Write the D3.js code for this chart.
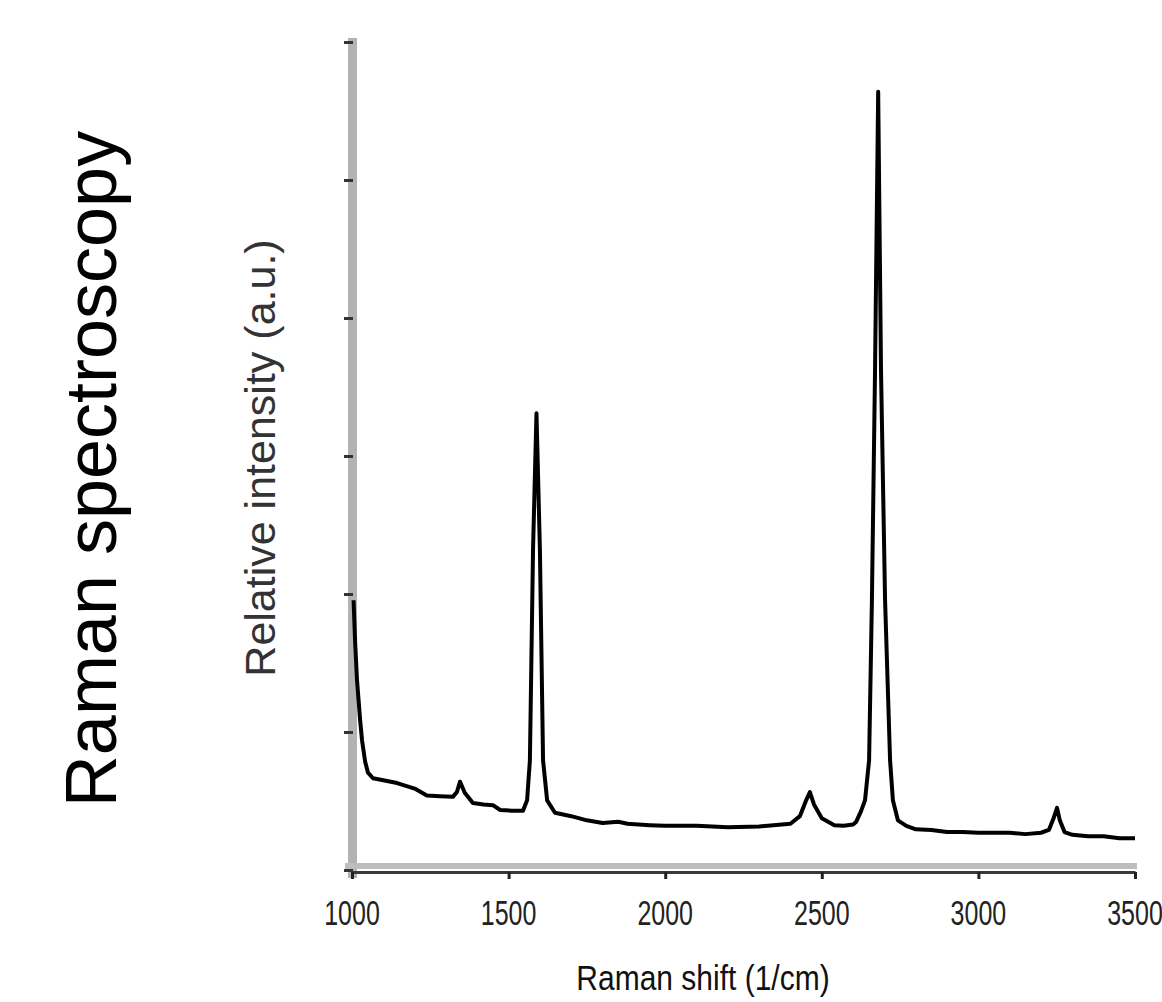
<!DOCTYPE html>
<html lang="en">
<head>
    <meta charset="UTF-8">
    <title>Raman spectroscopy</title>
    <script src="https://d3js.org/d3.v7.min.js"></script>
    <style>
        body {
            margin: 0;
            background: #fff;
            font-family: "Liberation Sans", Arial, sans-serif;
        }
    </style>
</head>
<body>
<div id="chart"></div>

<script>
    // Raman shift (1/cm) and relative intensity
    const shift = [1005, 1010, 1016, 1026, 1032, 1042, 1051, 1067, 1100, 1144, 1200, 1239, 1280, 1322, 1335,
        1345, 1360, 1386, 1420, 1450, 1473, 1510, 1546, 1559, 1568, 1578, 1589, 1600, 1610, 1623, 1648,
        1700, 1750, 1800, 1850, 1880, 1950, 2000, 2100, 2200, 2300, 2400, 2430, 2450, 2462, 2475, 2500,
        2540, 2570, 2600, 2610, 2625, 2638, 2651, 2660, 2670, 2680, 2689, 2702, 2718, 2727, 2743, 2770,
        2800, 2850, 2900, 2950, 3000, 3100, 3150, 3200, 3225, 3240, 3251, 3260, 3275, 3300, 3350, 3400,
        3450, 3500];
    const intensity = [0.391, 0.330, 0.275, 0.217, 0.188, 0.157, 0.141, 0.133, 0.130, 0.126, 0.118, 0.108, 0.107, 0.106, 0.113,
        0.128, 0.112, 0.097, 0.095, 0.094, 0.087, 0.086, 0.086, 0.101, 0.159, 0.464, 0.662, 0.464, 0.159, 0.101, 0.083,
        0.078, 0.072, 0.068, 0.070, 0.067, 0.065, 0.064, 0.064, 0.062, 0.063, 0.067, 0.078, 0.101, 0.113, 0.095, 0.075,
        0.065, 0.064, 0.066, 0.070, 0.085, 0.101, 0.159, 0.391, 0.725, 1.128, 0.725, 0.391, 0.159, 0.101, 0.072, 0.064,
        0.059, 0.058, 0.055, 0.055, 0.054, 0.054, 0.052, 0.054, 0.058, 0.075, 0.090, 0.072, 0.055, 0.051, 0.049, 0.049,
        0.046, 0.046];

    const xTicks = [1000, 1500, 2000, 2500, 3000, 3500];
    const yTicks = [0, 0.2, 0.4, 0.6, 0.8, 1.0, 1.2];

    const width = 1162, height = 1002;

    const svg = d3.select("#chart")
        .append("svg")
        .attr("width", width)
        .attr("height", height);

    const x = d3.scaleLinear().domain([1000, 3500]).range([352, 1135]);
    const y = d3.scaleLinear().domain([0, 1.2]).range([870, 42]);

    // grey y axis bar
    svg.append("rect")
        .attr("x", 348).attr("y", 38)
        .attr("width", 9).attr("height", 840)
        .attr("fill", "#b3b3b3");

    // grey band over the x axis
    svg.append("rect")
        .attr("x", 345).attr("y", 863)
        .attr("width", 792).attr("height", 6)
        .attr("fill", "#bdbdbd");

    const yAxis = svg.append("g")
        .attr("transform", "translate(353,0)")
        .call(d3.axisLeft(y).tickValues(yTicks).tickSize(9).tickFormat(""));
    yAxis.select(".domain").remove();
    yAxis.selectAll(".tick line").attr("stroke", "#333").attr("stroke-width", 3);

    const xAxis = svg.append("g")
        .attr("transform", "translate(0,872)")
        .call(d3.axisBottom(x).tickValues(xTicks).tickSize(7).tickSizeOuter(0).tickFormat(""));
    xAxis.select(".domain").attr("stroke", "#3a3a3a").attr("stroke-width", 3);
    xAxis.selectAll(".tick line").attr("stroke", "#222").attr("stroke-width", 3);

    // tick labels (tall, narrow look of the original)
    svg.selectAll(".xlabel")
        .data(xTicks)
        .enter()
        .append("text")
        .attr("class", "xlabel")
        .attr("transform", d => `translate(${x(d)},925) scale(1,1.4)`)
        .attr("text-anchor", "middle")
        .style("font-size", "25px")
        .style("fill", "#222")
        .text(d => d);

    // spectrum
    const line = d3.line()
        .x((d, i) => x(shift[i]))
        .y(d => y(d));

    svg.append("path")
        .datum(intensity)
        .attr("fill", "none")
        .attr("stroke", "#000")
        .attr("stroke-width", 4)
        .attr("stroke-linejoin", "round")
        .attr("d", line);

    // axis titles
    svg.append("text")
        .attr("transform", "translate(703,990) scale(1,1.15)")
        .attr("text-anchor", "middle")
        .style("font-size", "30px")
        .style("fill", "#111")
        .text("Raman shift (1/cm)");

    svg.append("text")
        .attr("transform", "translate(275,458) rotate(-90)")
        .attr("text-anchor", "middle")
        .style("font-size", "43px")
        .style("fill", "#333")
        .text("Relative intensity (a.u.)");

    svg.append("text")
        .attr("transform", "translate(116,469) rotate(-90)")
        .attr("text-anchor", "middle")
        .style("font-size", "72px")
        .style("fill", "#000")
        .text("Raman spectroscopy");
</script>

</body>
</html>
